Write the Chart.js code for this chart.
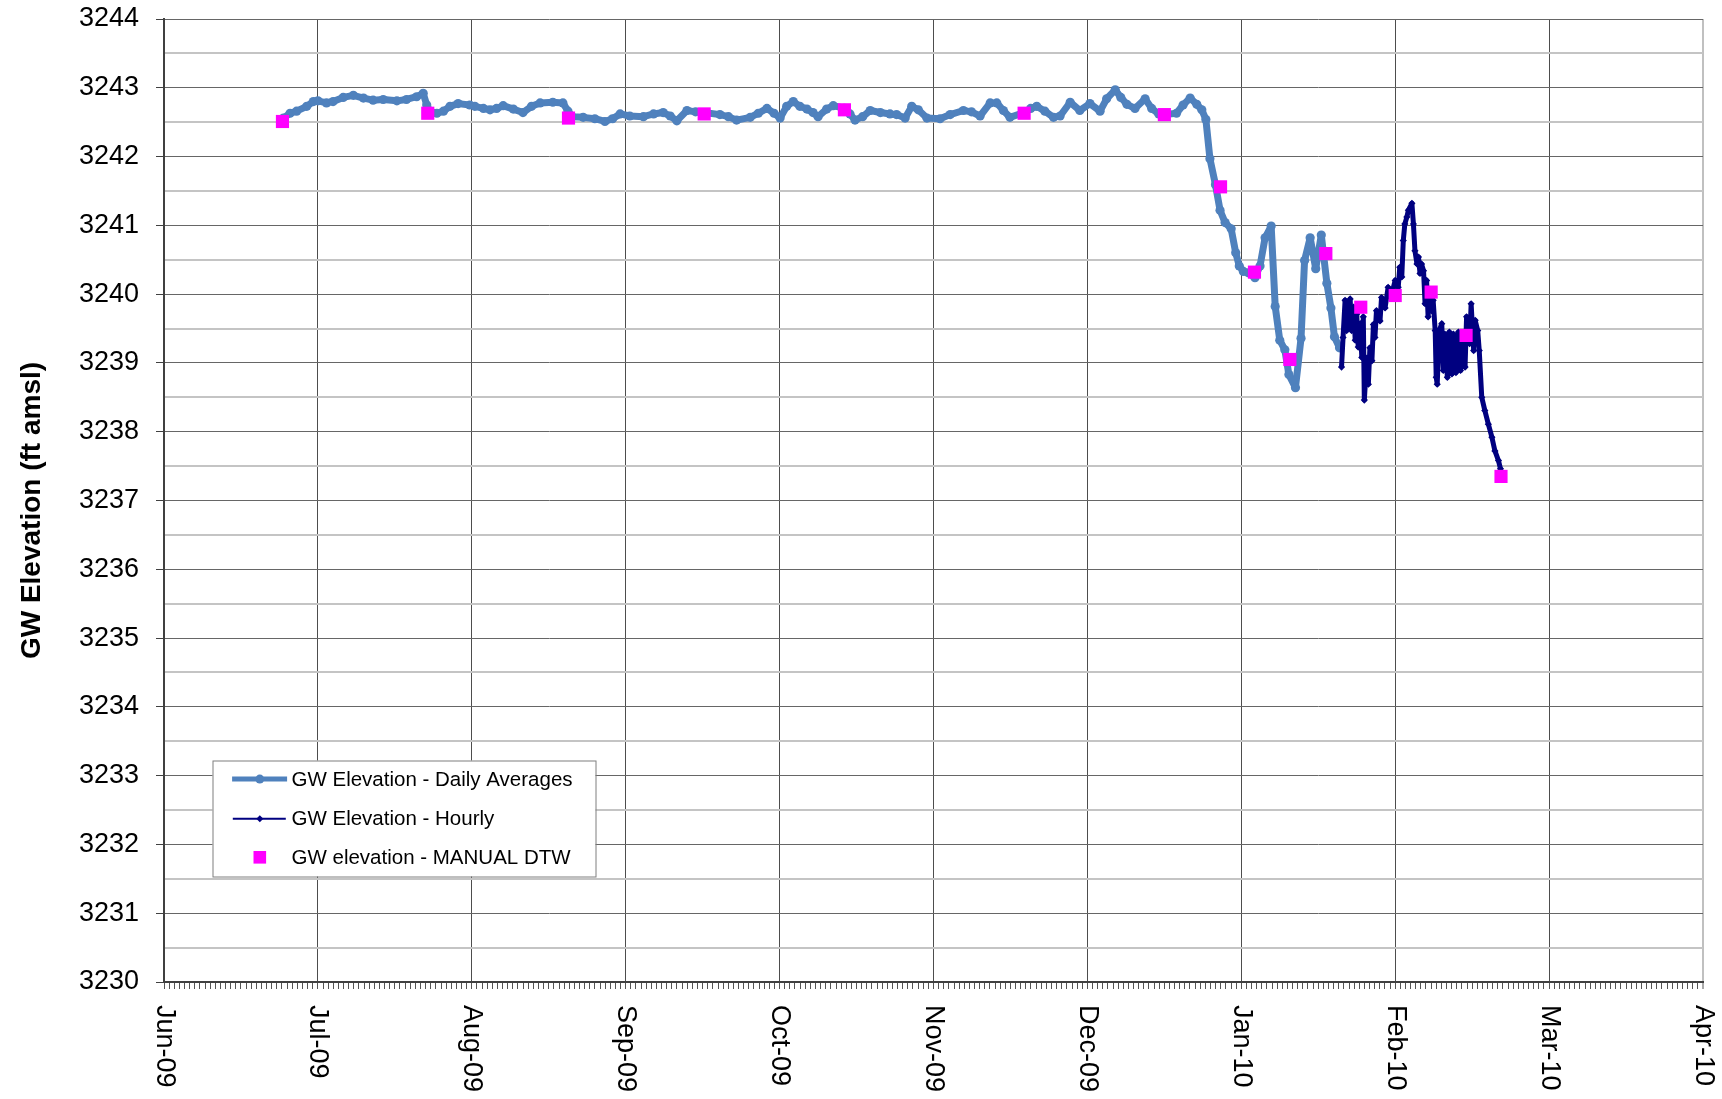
<!DOCTYPE html>
<html>
<head>
<meta charset="utf-8">
<title>GW Elevation</title>
<script src="https://cdn.jsdelivr.net/npm/chart.js@4.4.1/dist/chart.umd.min.js"></script>
<style>
  html, body { margin: 0; padding: 0; background: #fff; }
  #wrap { width: 1722px; height: 1099px; }
</style>
</head>
<body>
<div id="wrap"><canvas id="gwChart" width="1722" height="1099"></canvas></div>
<script>
// ========================================
// GW ELEVATION - daily / hourly / manual
// ========================================

// x values are days counted from the Jun-09 gridline; the month labels sit evenly spaced
const monthLabels = ['Jun-09', 'Jul-09', 'Aug-09', 'Sep-09', 'Oct-09', 'Nov-09',
                     'Dec-09', 'Jan-10', 'Feb-10', 'Mar-10', 'Apr-10'];
const MONTH_SPAN = 30.4;
const MINOR_PER_MONTH = 30;
const Y_MIN = 3230;
const Y_MAX = 3244;

// GW Elevation - Daily Averages
const dailyDays = [
    23.6, 24.9, 26.2, 28.2, 29.5, 30.4, 32.1, 33.4, 35.4, 37.4, 39.4, 41.3, 43.3, 46.0, 47.9,
    49.9, 51.2, 51.9, 52.5, 53.9, 55.2, 56.5, 58.1, 60.4, 61.4, 63.1, 64.4, 65.7, 67.0, 69.0,
    70.9, 72.6, 74.3, 76.8, 78.8, 79.8, 80.6, 82.8, 85.1, 87.1, 88.6, 90.1, 92.0, 94.7, 96.7,
    98.6, 100.0, 101.3, 103.3, 105.0, 106.7, 109.8, 111.5, 113.1, 115.8, 117.4, 119.1, 120.5,
    121.7, 123.0, 124.3, 125.6, 127.0, 128.2, 129.2, 130.9, 132.2, 134.4, 135.5, 136.5, 138.0,
    139.5, 141.5, 143.4, 144.7, 146.4, 147.7, 149.0, 150.7, 153.3, 155.3, 157.9, 159.5, 161.2,
    163.2, 164.5, 165.8, 167.1, 169.9, 171.2, 172.4, 174.0, 175.7, 177.0, 179.0, 180.9, 182.9,
    184.9, 186.2, 187.9, 189.0, 190.2, 191.8, 193.8, 195.1, 196.5, 197.6, 200.0, 201.3, 202.7,
    204.0, 205.0, 205.8, 206.6, 207.7, 208.6, 209.6, 210.8, 211.7, 212.4, 213.2, 214.2, 215.5,
    216.5, 217.5, 218.7, 219.5, 220.4, 221.4, 222.2, 223.5, 224.6, 225.3, 226.4, 227.5, 228.6,
    229.7, 230.5, 231.2, 232.2
];
const dailyElev = [
    3242.56, 3242.63, 3242.66, 3242.73, 3242.80, 3242.81, 3242.78, 3242.80, 3242.86, 3242.89, 3242.85, 3242.82, 3242.83, 3242.81, 3242.83,
    3242.87, 3242.92, 3242.75, 3242.66, 3242.63, 3242.66, 3242.73, 3242.77, 3242.75, 3242.73, 3242.70, 3242.68, 3242.70, 3242.74, 3242.69,
    3242.64, 3242.73, 3242.78, 3242.79, 3242.78, 3242.66, 3242.58, 3242.57, 3242.55, 3242.51, 3242.55, 3242.62, 3242.59, 3242.58, 3242.62,
    3242.64, 3242.59, 3242.52, 3242.67, 3242.65, 3242.64, 3242.61, 3242.58, 3242.53, 3242.57, 3242.63, 3242.70, 3242.63,
    3242.56, 3242.73, 3242.80, 3242.73, 3242.69, 3242.64, 3242.58, 3242.69, 3242.74, 3242.70, 3242.62, 3242.53, 3242.58,
    3242.67, 3242.64, 3242.62, 3242.61, 3242.56, 3242.73, 3242.68, 3242.56, 3242.55, 3242.61, 3242.67, 3242.65, 3242.59,
    3242.78, 3242.78, 3242.67, 3242.57, 3242.64, 3242.70, 3242.73, 3242.66, 3242.57, 3242.59, 3242.79, 3242.67, 3242.77,
    3242.66, 3242.84, 3242.97, 3242.86, 3242.76, 3242.70, 3242.84, 3242.70, 3242.62, 3242.61, 3242.63, 3242.75, 3242.85,
    3242.76, 3242.68, 3242.54, 3241.97, 3241.59, 3241.22, 3241.04, 3240.95, 3240.60, 3240.41, 3240.33, 3240.31, 3240.24,
    3240.41, 3240.82, 3240.99, 3239.82, 3239.33, 3239.19, 3238.83, 3238.64, 3239.36, 3240.49, 3240.82, 3240.37, 3240.86,
    3240.16, 3239.80, 3239.38, 3239.22
];

// GW Elevation - Hourly
const hourlyDays = [
    232.6, 232.9, 233.3, 233.6, 234.3, 234.6, 235.0, 235.3, 235.6, 235.9, 236.3, 236.6, 236.9, 237.1,
    237.6, 237.9, 238.2, 238.6, 238.9, 239.2, 239.5, 240.2, 240.5, 241.2, 241.8, 242.5, 243.2, 243.8,
    244.1, 244.5, 244.8, 245.1, 245.5, 245.8, 246.5, 246.8, 247.1, 247.5, 247.8, 248.1, 248.4, 248.8,
    249.1, 249.4, 249.7, 250.0, 250.4, 250.7, 251.1, 251.3, 251.5, 251.9, 252.4, 252.7, 253.0, 253.5,
    253.9, 254.4, 254.7, 255.2, 255.7, 256.1, 256.5, 257.0, 257.3, 257.9, 258.2, 258.7, 259.0, 259.5,
    259.8, 260.3, 260.9, 261.6, 262.3, 262.9, 263.6, 264.0
];
const hourlyElev = [
    3238.94, 3239.37, 3239.91, 3239.47, 3239.93, 3239.47, 3239.81, 3239.33, 3239.71, 3239.23, 3239.57, 3239.08, 3239.67, 3238.46,
    3239.07, 3238.69, 3239.22, 3239.03, 3239.56, 3239.37, 3239.76, 3239.61, 3239.95, 3239.80, 3240.10, 3240.00, 3240.20, 3240.10,
    3240.39, 3240.25, 3240.78, 3241.02, 3241.12, 3241.22, 3241.32, 3241.02, 3240.63, 3240.44, 3240.54, 3240.30, 3240.44, 3240.34,
    3239.86, 3240.20, 3239.67, 3240.05, 3239.76, 3239.91, 3239.47, 3238.79, 3238.69, 3239.47, 3239.57, 3238.89, 3239.42, 3238.79,
    3239.45, 3238.84, 3239.42, 3238.86, 3239.45, 3238.89, 3239.42, 3238.94, 3239.67, 3239.28, 3239.86, 3239.18, 3239.62, 3239.47,
    3239.18, 3238.50, 3238.31, 3238.11, 3237.92, 3237.72, 3237.58, 3237.46
];

// GW elevation - MANUAL DTW
const manualDays = [23.4, 52.1, 79.9, 106.7, 134.4, 169.9, 197.6, 208.7, 215.4, 222.4, 229.5, 236.4, 243.2, 250.3, 257.2, 264.1];
const manualElev = [3242.51, 3242.63, 3242.56, 3242.62, 3242.68, 3242.63, 3242.61, 3241.56, 3240.32, 3239.05, 3240.59, 3239.81, 3239.98, 3240.03, 3239.40, 3237.35];

const FONT = '"Liberation Sans", Arial, Helvetica, sans-serif';
Chart.defaults.font.family = FONT;
Chart.defaults.color = '#000';

function toPoints(xs, ys) {
    return xs.map((x, i) => ({ x: x, y: ys[i] }));
}

// month ticks + small daily ticks on the bottom axis
function buildXTicks() {
    const ticks = [];
    for (let m = 0; m < monthLabels.length; m++) {
        ticks.push({ value: m * MONTH_SPAN, isMonth: true, idx: m });
        if (m === monthLabels.length - 1) break;
        for (let j = 1; j < MINOR_PER_MONTH; j++) {
            ticks.push({ value: m * MONTH_SPAN + j * MONTH_SPAN / MINOR_PER_MONTH, isMonth: false });
        }
    }
    return ticks;
}

// texts drawn by hand: rotated month labels, axis title, legend box
const customText = {
    id: 'customText',
    afterDraw(chart) {
        const { ctx, chartArea, scales } = chart;
        ctx.save();

        // month labels, turned clockwise
        ctx.font = '27px ' + FONT;
        ctx.fillStyle = '#000';
        ctx.textAlign = 'left';
        ctx.textBaseline = 'middle';
        monthLabels.forEach((lab, i) => {
            const px = scales.x.getPixelForValue(i * MONTH_SPAN);
            ctx.save();
            ctx.translate(px, chartArea.bottom + 23);
            ctx.rotate(Math.PI / 2);
            ctx.fillText(lab, 0, 0);
            ctx.restore();
        });

        // y axis title
        ctx.save();
        ctx.font = 'bold 28px ' + FONT;
        ctx.textAlign = 'center';
        ctx.textBaseline = 'alphabetic';
        ctx.translate(40, (chartArea.top + chartArea.bottom) / 2 + 10);
        ctx.rotate(-Math.PI / 2);
        ctx.fillText('GW Elevation (ft amsl)', 0, 0);
        ctx.restore();

        // legend
        const ds = chart.data.datasets;
        const bx = chartArea.left + 48.5;
        const by = chartArea.top + 741.5;
        const bw = 383;
        const bh = 116;
        ctx.fillStyle = '#fff';
        ctx.fillRect(bx, by, bw, bh);
        ctx.strokeStyle = '#7f7f7f';
        ctx.lineWidth = 1;
        ctx.strokeRect(bx + 0.5, by + 0.5, bw, bh);

        const rows = [18.6, 58.3, 96.8];
        const mx = bx + 47.3;

        // daily averages
        ctx.strokeStyle = ds[0].borderColor;
        ctx.lineWidth = 5;
        ctx.beginPath();
        ctx.moveTo(bx + 19.6, by + rows[0]);
        ctx.lineTo(bx + 74.6, by + rows[0]);
        ctx.stroke();
        ctx.fillStyle = ds[0].borderColor;
        ctx.beginPath();
        ctx.arc(mx, by + rows[0], 4.5, 0, Math.PI * 2);
        ctx.fill();

        // hourly
        ctx.strokeStyle = ds[1].borderColor;
        ctx.lineWidth = 2;
        ctx.beginPath();
        ctx.moveTo(bx + 20.3, by + rows[1]);
        ctx.lineTo(bx + 73.3, by + rows[1]);
        ctx.stroke();
        ctx.fillStyle = ds[1].borderColor;
        ctx.beginPath();
        ctx.moveTo(mx, by + rows[1] - 3.5);
        ctx.lineTo(mx + 3.5, by + rows[1]);
        ctx.lineTo(mx, by + rows[1] + 3.5);
        ctx.lineTo(mx - 3.5, by + rows[1]);
        ctx.closePath();
        ctx.fill();

        // manual
        ctx.fillStyle = ds[2].backgroundColor;
        ctx.fillRect(mx - 6.3, by + rows[2] - 6.3, 12.6, 12.6);

        ctx.fillStyle = '#000';
        ctx.font = '20.5px ' + FONT;
        ctx.textAlign = 'left';
        ctx.textBaseline = 'middle';
        ds.forEach((d, i) => {
            ctx.fillText(d.label, bx + 79, by + rows[i] + 1);
        });

        ctx.restore();
    }
};

const ctx = document.getElementById('gwChart');

new Chart(ctx, {
    type: 'line',
    data: {
        datasets: [{
            label: 'GW Elevation - Daily Averages',
            data: toPoints(dailyDays, dailyElev),
            borderColor: '#4F81BD',
            backgroundColor: '#4F81BD',
            borderWidth: 7,
            segment: { borderWidth: 7 },
            borderJoinStyle: 'round',
            borderCapStyle: 'round',
            tension: 0,
            pointStyle: 'circle',
            pointRadius: 4.6,
            pointBackgroundColor: '#4F81BD',
            pointBorderWidth: 0,
            order: 3
        }, {
            label: 'GW Elevation - Hourly',
            data: toPoints(hourlyDays, hourlyElev),
            borderColor: '#000080',
            backgroundColor: '#000080',
            borderWidth: 5,
            segment: { borderWidth: 5 },
            borderJoinStyle: 'round',
            tension: 0,
            pointStyle: 'rectRot',
            pointRadius: 3.6,
            pointBackgroundColor: '#000080',
            pointBorderWidth: 0,
            order: 2
        }, {
            label: 'GW elevation - MANUAL DTW',
            data: toPoints(manualDays, manualElev),
            showLine: false,
            borderColor: '#FF00FF',
            backgroundColor: '#FF00FF',
            pointStyle: 'rect',
            pointRadius: 9.3,
            pointBackgroundColor: '#FF00FF',
            pointBorderWidth: 0,
            order: 1
        }]
    },
    options: {
        responsive: false,
        animation: false,
        layout: {
            padding: { top: 19, right: 19, left: 0, bottom: 0 }
        },
        plugins: {
            legend: { display: false },
            tooltip: { enabled: false }
        },
        scales: {
            x: {
                type: 'linear',
                min: 0,
                max: (monthLabels.length - 1) * MONTH_SPAN,
                afterBuildTicks: function (axis) {
                    axis.ticks = buildXTicks();
                },
                afterFit: function (axis) {
                    axis.height = 117;
                    axis.paddingLeft = 0;
                    axis.paddingRight = 0;
                },
                ticks: { display: false, autoSkip: false },
                grid: {
                    color: function (c) {
                        if (!c.tick || !c.tick.isMonth) return 'rgba(0,0,0,0)';
                        return c.tick.idx === monthLabels.length - 1 ? '#c0c0c0' : '#4d4d4d';
                    },
                    lineWidth: function (c) {
                        return c.tick && c.tick.idx === monthLabels.length - 1 ? 2 : 1;
                    },
                    tickColor: '#555',
                    tickLength: 7,
                    tickWidth: 1
                },
                border: { color: '#404040', width: 2 }
            },
            y: {
                type: 'linear',
                min: Y_MIN,
                max: Y_MAX,
                afterFit: function (axis) {
                    axis.width = 164;
                    // tick padding would otherwise push the plot top down
                    axis.paddingTop = 0;
                    axis.paddingBottom = 0;
                },
                ticks: {
                    stepSize: 0.5,
                    autoSkip: false,
                    padding: 17,
                    color: '#000',
                    font: { size: 27 },
                    callback: function (value) {
                        return Number.isInteger(value) ? value : '';
                    }
                },
                grid: {
                    color: function (c) {
                        return c.tick && Number.isInteger(c.tick.value) ? '#666666' : '#c4c4c4';
                    },
                    lineWidth: function (c) {
                        return c.tick && Number.isInteger(c.tick.value) ? 1 : 2;
                    },
                    tickColor: function (c) {
                        return c.tick && Number.isInteger(c.tick.value) ? '#404040' : 'rgba(0,0,0,0)';
                    },
                    tickLength: 8
                },
                border: { color: '#404040', width: 2 }
            }
        }
    },
    plugins: [customText]
});
</script>
</body>
</html>
